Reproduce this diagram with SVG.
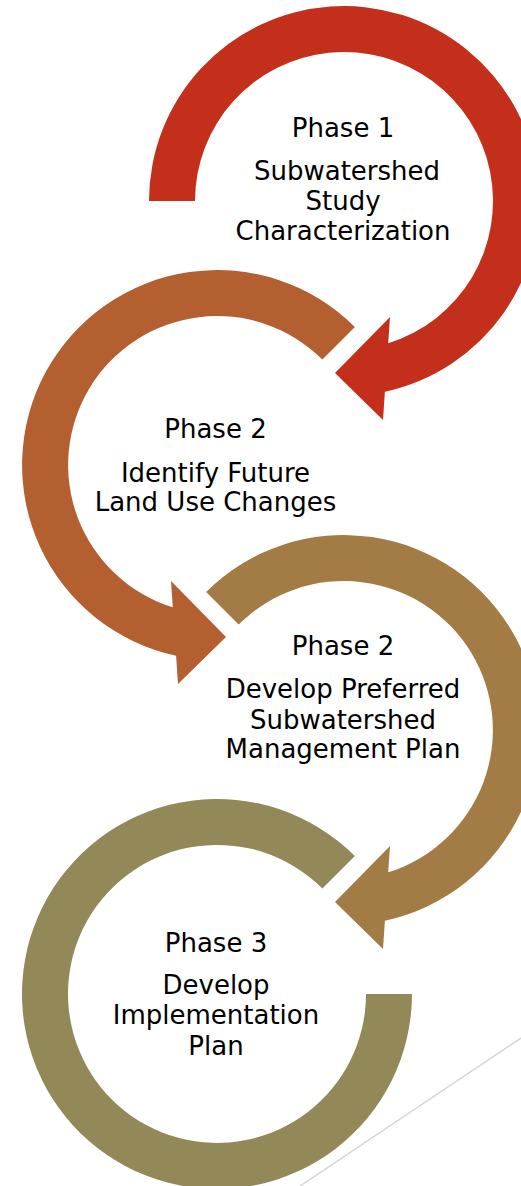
<svg xmlns="http://www.w3.org/2000/svg" width="521" height="1186" viewBox="0 0 521 1186">
  <style>
    .lbl { font-family: "DejaVu Sans", "Liberation Sans", sans-serif; font-size: 26px; fill: #000; text-anchor: middle; }
    .p1 { fill: #C32F1B; }
    .p2 { fill: #B35F2F; }
    .p3 { fill: #A37B44; }
    .p4 { fill: #928858; }
  </style>
  <rect width="521" height="1186" fill="#fff"/>
  <g id="decoration">
    <line x1="521" y1="1038" x2="300" y2="1186" stroke="#D4D4D4" stroke-width="1.5"/>
  </g>
  <g id="node-phase1" transform="translate(344,201)">
    <path class="p1" d="M -195 0 A 195 195 0 1 1 40.9 190.7 L 39 219 L -9 172 L 46 116 L 44.2 142.3 A 149 149 0 1 0 -149 0 Z"/>
    <text class="lbl" x="-1" y="-64">Phase 1</text>
    <text class="lbl" x="3" y="-21">Subwatershed</text>
    <text class="lbl" x="-1" y="9">Study</text>
    <text class="lbl" x="-1" y="39">Characterization</text>
  </g>
  <g id="node-phase2a" transform="translate(217,465)">
    <path class="p2" d="M 137.9 -137.9 A 195 195 0 1 0 -40.9 190.7 L -39 219 L 9 172 L -46 116 L -44.2 142.3 A 149 149 0 1 1 105.4 -105.4 Z"/>
    <text class="lbl" x="-1.5" y="-27">Phase 2</text>
    <text class="lbl" x="-1.5" y="17">Identify Future</text>
    <text class="lbl" x="-1.5" y="46">Land Use Changes</text>
  </g>
  <g id="node-phase2b" transform="translate(344,730)">
    <path class="p3" d="M -137.9 -137.9 A 195 195 0 1 1 40.9 190.7 L 39 219 L -9 172 L 46 116 L 44.2 142.3 A 149 149 0 1 0 -105.4 -105.4 Z"/>
    <text class="lbl" x="-1" y="-75">Phase 2</text>
    <text class="lbl" x="-1" y="-32">Develop Preferred</text>
    <text class="lbl" x="-1" y="-1">Subwatershed</text>
    <text class="lbl" x="-1" y="28">Management Plan</text>
  </g>
  <g id="node-phase3" transform="translate(217,994)">
    <path class="p4" d="M 195 0 A 195 195 0 1 1 137.9 -137.9 L 105.4 -105.4 A 149 149 0 1 0 149 0 Z"/>
    <text class="lbl" x="-1" y="-42">Phase 3</text>
    <text class="lbl" x="-1" y="0">Develop</text>
    <text class="lbl" x="-1" y="30">Implementation</text>
    <text class="lbl" x="-1" y="61">Plan</text>
  </g>
  <g id="connectors"/>
</svg>
